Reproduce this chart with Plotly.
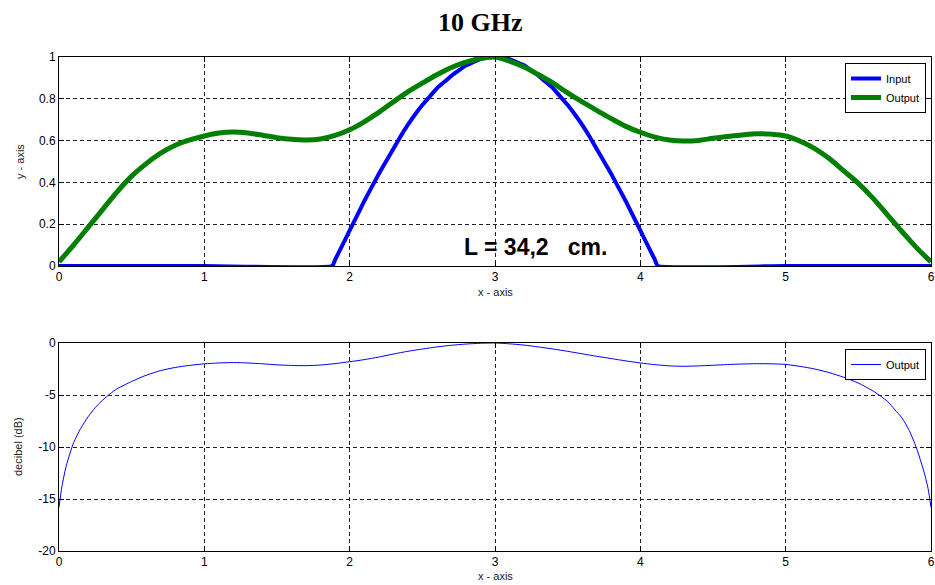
import plotly.graph_objects as go
from plotly.subplots import make_subplots

# Pulse envelope along the line (x from 0 to 6)
x_in = [0.0, 1.0, 1.88, 1.9, 1.95, 2.0, 2.05, 2.1, 2.15, 2.2, 2.25, 2.3, 2.35, 2.4, 2.45,
        2.5, 2.55, 2.6, 2.65, 2.7, 2.75, 2.8, 2.85, 2.9, 2.95, 3.0,
        3.05, 3.1, 3.15, 3.2, 3.25, 3.3, 3.35, 3.4, 3.45, 3.5, 3.55, 3.6, 3.65,
        3.7, 3.75, 3.8, 3.85, 3.9, 3.95, 4.0, 4.05, 4.1, 4.12, 5.0, 6.0]
y_in = [0.0, 0.0, 0.0, 0.03, 0.10, 0.17, 0.24, 0.31, 0.375, 0.44, 0.50, 0.56, 0.62, 0.675, 0.725,
        0.77, 0.81, 0.85, 0.88, 0.91, 0.935, 0.96, 0.975, 0.99, 0.997, 1.0,
        0.997, 0.99, 0.975, 0.96, 0.935, 0.91, 0.88, 0.85, 0.81, 0.77, 0.725, 0.675, 0.62,
        0.56, 0.50, 0.44, 0.375, 0.31, 0.24, 0.17, 0.10, 0.03, 0.0, 0.0, 0.0]

x_out = [0.0, 0.1, 0.2, 0.3, 0.4, 0.5, 0.6, 0.7, 0.8, 0.9,
         1.0, 1.1, 1.2, 1.3, 1.4, 1.5, 1.6, 1.7, 1.8, 1.9,
         2.0, 2.1, 2.2, 2.3, 2.4, 2.5, 2.6, 2.7, 2.8, 2.9,
         3.0, 3.1, 3.2, 3.3, 3.4, 3.5, 3.6, 3.7, 3.8, 3.9,
         4.0, 4.1, 4.2, 4.3, 4.4, 4.5, 4.6, 4.7, 4.8, 4.9,
         5.0, 5.1, 5.2, 5.3, 5.4, 5.5, 5.6, 5.7, 5.8, 5.9, 6.0]
y_out = [0.02, 0.10, 0.185, 0.27, 0.355, 0.43, 0.49, 0.54, 0.578, 0.603,
         0.622, 0.636, 0.641, 0.636, 0.626, 0.614, 0.606, 0.603, 0.608, 0.625,
         0.652, 0.69, 0.735, 0.785, 0.833, 0.875, 0.915, 0.95, 0.975, 0.993,
         1.0, 0.98, 0.952, 0.915, 0.875, 0.828, 0.785, 0.745, 0.705, 0.668,
         0.64, 0.617, 0.603, 0.598, 0.601, 0.611, 0.62, 0.627, 0.633, 0.631,
         0.622, 0.597, 0.562, 0.514, 0.455, 0.395, 0.325, 0.245, 0.165, 0.088, 0.02]

x_db = [0.0, 0.02, 0.05, 0.1, 0.15, 0.2, 0.25, 0.3, 0.35, 0.4, 0.5, 0.6, 0.7, 0.8, 0.9,
        1.0, 1.1, 1.2, 1.3, 1.4, 1.5, 1.6, 1.7, 1.8, 1.9,
        2.0, 2.1, 2.2, 2.3, 2.4, 2.5, 2.6, 2.7, 2.8, 2.9,
        3.0, 3.1, 3.2, 3.3, 3.4, 3.5, 3.6, 3.7, 3.8, 3.9,
        4.0, 4.1, 4.2, 4.3, 4.4, 4.5, 4.6, 4.7, 4.8, 4.9,
        5.0, 5.1, 5.2, 5.3, 5.4, 5.5, 5.6, 5.7, 5.75, 5.8, 5.85, 5.9, 5.95, 5.98, 6.0]
y_db = [-15.8, -13.8, -11.8, -9.6, -8.2, -7.1, -6.2, -5.5, -4.9, -4.4, -3.7, -3.1, -2.65, -2.35, -2.15,
        -2.0, -1.92, -1.88, -1.92, -2.0, -2.1, -2.16, -2.18, -2.12, -1.98,
        -1.8, -1.6, -1.35, -1.06, -0.8, -0.58, -0.38, -0.22, -0.1, -0.03,
        0.0, -0.08, -0.2, -0.38, -0.58, -0.8, -1.04, -1.28, -1.5, -1.72,
        -1.92, -2.08, -2.2, -2.24, -2.2, -2.14, -2.07, -2.02, -1.99, -2.0,
        -2.06, -2.25, -2.5, -2.85, -3.3, -3.85, -4.6, -5.6, -6.4, -7.2, -8.4, -10.1, -12.3, -14.0, -15.8]

x_ticks = [0, 1, 2, 3, 4, 5, 6]
y1_ticks = [0, 0.2, 0.4, 0.6, 0.8, 1]
y1_labels = ["0", "0.2", "0.4", "0.6", "0.8", "1"]
y2_ticks = [0, -5, -10, -15, -20]
y2_labels = ["0", "-5", "-10", "-15", "-20"]

title_text = "10 GHz"
length_label = "L = 34,2\u00a0\u00a0\u00a0cm."

W, H = 935, 585
ML, MR, MT, MB = 59, 4, 57, 34
PH = H - MT - MB


def py(pix):
    """page pixel row -> paper y"""
    return (H - MB - pix) / PH


def px(pix):
    """page pixel column -> paper x"""
    return (pix - ML) / (W - ML - MR)


fig = make_subplots(rows=2, cols=1, shared_xaxes=False, vertical_spacing=0.05)

fig.add_trace(go.Scatter(x=x_in, y=y_in, mode="lines", name="Input",
                         line=dict(color="#0000FF", width=4, shape="spline", smoothing=0.4),
                         legend="legend"),
              row=1, col=1)
fig.add_trace(go.Scatter(x=x_out, y=y_out, mode="lines", name="Output",
                         line=dict(color="#007F00", width=5, shape="spline", smoothing=1.0),
                         legend="legend"),
              row=1, col=1)
fig.add_trace(go.Scatter(x=x_db, y=y_db, mode="lines", name="Output",
                         line=dict(color="#0000FF", width=1, shape="spline", smoothing=0.6),
                         legend="legend2"),
              row=2, col=1)

tick_font = dict(family="Liberation Sans, Arial, sans-serif", size=12, color="black")
grid = dict(showgrid=True, gridcolor="#222222", gridwidth=1, griddash="4px,3px",
            zeroline=False, showline=True, linecolor="black", linewidth=1,
            mirror="ticks", ticks="inside", ticklen=5, tickcolor="black",
            tickfont=tick_font, ticklabeloverflow="allow", automargin=False)

fig.update_xaxes(range=[0, 6], tickvals=x_ticks, ticktext=[str(v) for v in x_ticks],
                 domain=[0, 1], **grid)
fig.update_yaxes(**grid)
fig.update_yaxes(range=[0, 1], tickvals=y1_ticks, ticktext=y1_labels,
                 domain=[py(266), 1.0], row=1, col=1)
fig.update_yaxes(range=[-20, 0], tickvals=y2_ticks, ticktext=y2_labels,
                 domain=[0.0, py(343)], row=2, col=1)

label_font = dict(family="Liberation Sans, Arial, sans-serif", size=11, color="#222222")
annotations = [
    dict(text="<b>" + title_text + "</b>", x=px(480), y=py(22), xref="paper", yref="paper",
         showarrow=False, xanchor="center", yanchor="middle",
         font=dict(family="Liberation Serif, Times New Roman, serif", size=26, color="black")),
    dict(text="x - axis", x=px(495), y=py(292), xref="paper", yref="paper",
         showarrow=False, xanchor="center", yanchor="middle", font=label_font),
    dict(text="x - axis", x=px(495), y=py(576), xref="paper", yref="paper",
         showarrow=False, xanchor="center", yanchor="middle", font=label_font),
    dict(text="y - axis", x=px(20), y=py(162), xref="paper", yref="paper",
         showarrow=False, xanchor="center", yanchor="middle", textangle=-90, font=label_font),
    dict(text="decibel (dB)", x=px(18), y=py(447), xref="paper", yref="paper",
         showarrow=False, xanchor="center", yanchor="middle", textangle=-90, font=label_font),
    dict(text="<b>" + length_label + "</b>", x=3.28, y=0.091, xref="x", yref="y",
         showarrow=False, xanchor="center", yanchor="middle",
         font=dict(family="Liberation Sans, Arial, sans-serif", size=23, color="black")),
]

legend_style = dict(bgcolor="white", bordercolor="black", borderwidth=1,
                    font=dict(family="Liberation Sans, Arial, sans-serif", size=11, color="black"),
                    xanchor="right", yanchor="top", itemwidth=30, tracegroupgap=0)

fig.update_layout(
    width=W, height=H,
    margin=dict(l=ML, r=MR, t=MT, b=MB, autoexpand=False),
    paper_bgcolor="white", plot_bgcolor="white",
    showlegend=True,
    legend=dict(x=px(926), y=py(63), **legend_style),
    legend2=dict(x=px(926), y=py(349), **legend_style),
    annotations=annotations,
)

fig.write_html("out.html")
